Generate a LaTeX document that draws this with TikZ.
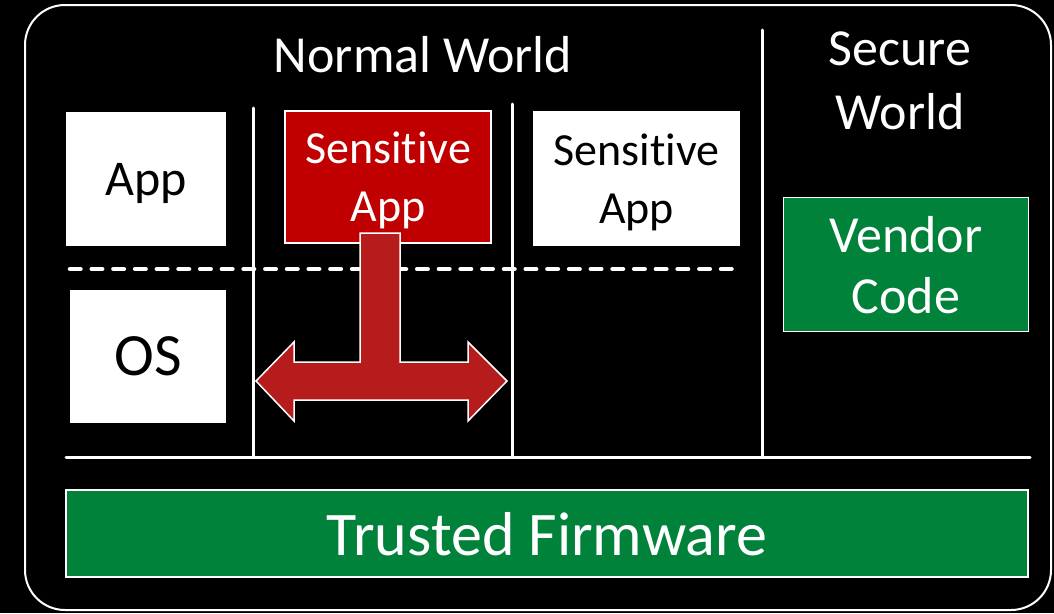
\documentclass[tikz,border=0pt]{standalone}
\usepackage{fontspec}
\setmainfont{Carlito}[Ligatures=NoCommon]
\usepackage{xcolor}
\definecolor{appred}{HTML}{C00000}
\definecolor{arrowred}{HTML}{B71C1C}
\definecolor{fwgreen}{HTML}{00823B}

\begin{document}
\begin{tikzpicture}[x=1pt,y=-1pt,
  whitebox/.style={fill=white,text=black,inner sep=0pt,align=center,text depth=0pt},
  colbox/.style={fill=#1,draw=white,line width=1.5pt,text=white,inner sep=0pt,align=center,text depth=0pt},
  sep/.style={draw=white,line width=3pt,line cap=round}]
  \fill[black] (0,0) rectangle (1054,613);
  \useasboundingbox (0,0) rectangle (1054,613);
  \draw[white,line width=2pt,rounded corners=40pt] (25,5) rectangle (1051,610);
  \node[white,font=\fontsize{52}{62}\selectfont] (normal) at (423,55){Normal World};
  \node[white,align=center,font=\fontsize{52}{64}\selectfont] (secure) at (900,81){Secure\\World};
  \node[whitebox,minimum width=160pt,minimum height=134pt,font=\fontsize{50}{60}\selectfont] (app) at (146,179){App};
  \node[colbox=appred,minimum width=206pt,minimum height=132pt,font=\fontsize{46}{58}\selectfont] (sensred) at (388,177){Sensitive\\App};
  \node[whitebox,minimum width=207pt,minimum height=135pt,font=\fontsize{46}{58}\selectfont] (senswhite) at (636.5,178.5){Sensitive\\App};
  \node[whitebox,minimum width=156pt,minimum height=133pt,font=\fontsize{60}{70}\selectfont] (os) at (148,356.5){OS};
  \node[colbox=fwgreen,minimum width=245pt,minimum height=134pt,font=\fontsize{52}{61}\selectfont] (vendor) at (906,264.5){Vendor\\Code};
  \node[colbox=fwgreen,minimum width=962pt,minimum height=87pt,font=\fontsize{62}{70}\selectfont] (firmware) at (547,533.5){Trusted Firmware};
  \foreach \x/\y in {253/108,512/104,762/30}{\draw[sep] (\x,\y) -- (\x,457);}
  \draw[sep] (66,457) -- (1030,457);
  \draw[sep,line width=4.5pt,dash pattern=on 10.5pt off 11.2pt] (70,269) -- (738,269);
  \draw[fill=arrowred,draw=white,line width=1.5pt] (360,233) -- (400,233) -- (400,362) -- (468,362)
    -- (468,342) -- (507,381) -- (468,421) -- (468,400) -- (294,400) -- (294,421) -- (256,381)
    -- (294,342) -- (294,362) -- (360,362) -- cycle;
\end{tikzpicture}
\end{document}
